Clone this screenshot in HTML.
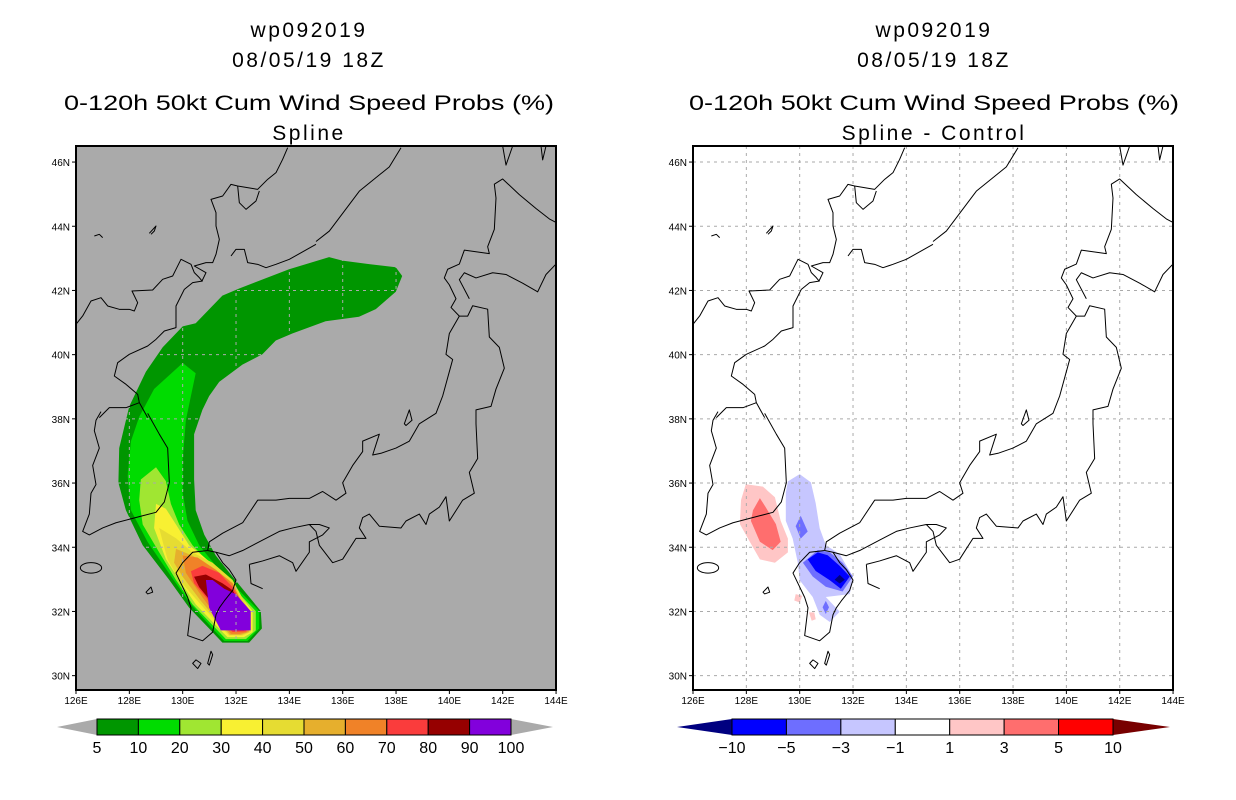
<!DOCTYPE html>
<html><head><meta charset="utf-8">
<style>
html,body{margin:0;padding:0;background:#fff;}
svg{display:block;}
text{font-family:"Liberation Sans",sans-serif;}
</style></head>
<body>
<svg id="chart" width="1236" height="800" viewBox="0 0 1236 800" xmlns="http://www.w3.org/2000/svg">
<defs>
<g id="coast" fill="none" stroke="#000" stroke-width="1" stroke-linejoin="round">
<g transform="scale(0.33333,0.33333)">
<path vector-effect="non-scaling-stroke" d="M0,535 L20,510 L45,465 L75,455 L95,480 L130,490 L160,490 L175,495 L185,470 L168,435 L230,432 L260,400 L290,390 L300,370 L315,340 L345,355 L355,380 L370,395 L378,405 L390,380 L355,360 L390,350 L410,350 L420,325 L430,280 L420,240 L420,200 L405,160 L440,150 L465,115 L485,120 L545,130 L575,100 L600,80 L620,40 L635,5"/>
<path vector-effect="non-scaling-stroke" d="M485,120 L490,170 L510,190 L540,165 L550,135"/>
<path vector-effect="non-scaling-stroke" d="M465,330 L480,310 L505,310 L515,350 L545,355 L570,365 L600,355 L640,340 L720,295"/>
<path vector-effect="non-scaling-stroke" d="M380,405 L350,410 L325,430 L300,480 L300,545 L265,555 L240,580 L215,600 L160,625 L125,650 L115,690 L150,715 L185,745 L190,770 L215,815"/>
<path vector-effect="non-scaling-stroke" d="M70,815 L100,785 L150,785 L190,770"/>
<path vector-effect="non-scaling-stroke" d="M220,262 L240,240 L235,255 L225,265 M55,270 L70,265 L80,275"/>
</g>
<g transform="scale(0.33333,0.34722)">
<path vector-effect="non-scaling-stroke" d="M720,275 L760,245 L850,130 L940,60 L975,5"/>
<path vector-effect="non-scaling-stroke" d="M215,770 L250,830 L275,870 L280,970 L265,1025 L240,1055 L200,1065 L160,1075 L120,1085 L80,1100 L40,1120 L20,1110 L40,1060 L45,1000 L60,975 L50,920 L70,870 L55,820 L60,790 L75,765"/>
<path vector-effect="non-scaling-stroke" d="M395,1165 L400,1140 L440,1115 L500,1085 L545,1020 L600,1020 L640,1015 L700,1015 L740,995 L780,1020 L810,1000 L800,970 L830,920 L860,880 L860,850 L910,830 L890,890 L915,885 L960,870 L1000,850 L1030,800 L1080,770 L1100,720 L1120,650 L1130,615 L1110,600 L1120,540 L1150,490 L1175,490 L1190,460 L1235,470 L1240,550 L1270,580 L1285,640 L1260,700 L1245,750 L1200,760 L1200,800 L1205,900 L1180,940 L1195,1000 L1160,1020 L1120,1080 L1110,1010 L1090,1040 L1060,1060 L1050,1090 L1030,1060 L990,1080 L975,1100 L910,1095 L880,1060 L860,1070 L850,1100 L870,1130 L840,1130 L800,1190 L770,1200 L730,1150 L720,1110 L700,1090 L650,1100 L610,1110 L560,1135 L500,1165 L460,1180 L420,1170 L395,1165"/>
<path vector-effect="non-scaling-stroke" d="M1150,490 L1125,465 L1140,440 L1120,400 L1105,380 L1115,355 L1150,340 L1165,300 L1240,310 L1235,290 L1255,240 L1260,150 L1255,110 L1280,95 L1330,140 L1380,180 L1420,210 L1440,220"/>
<path vector-effect="non-scaling-stroke" d="M1180,440 L1150,385 L1165,365 L1200,380 L1250,365 L1290,370 L1340,395 L1385,420 L1410,370 L1440,340"/>
<path vector-effect="non-scaling-stroke" d="M520,1205 L560,1195 L610,1180 L650,1200 L660,1225 L700,1170 L700,1140 L740,1120 L760,1100 L730,1090 L700,1090 M520,1205 L525,1260 L560,1275"/>
<path vector-effect="non-scaling-stroke" d="M395,1165 L350,1170 L320,1200 L300,1230 L320,1270 L335,1300 L345,1330 L335,1410 L380,1425 L410,1400 L420,1350 L430,1330 L445,1310 L470,1280 L480,1250 L460,1220 L440,1200 L420,1170"/>
<ellipse vector-effect="non-scaling-stroke" cx="45" cy="1215" rx="32" ry="15"/>
<path vector-effect="non-scaling-stroke" d="M1280,0 L1290,55 L1310,0 M1395,0 L1400,40 L1410,0"/>
<path vector-effect="non-scaling-stroke" d="M350,1490 L365,1505 L375,1490 L360,1480 Z M395,1490 L405,1455 L410,1465 L400,1495 Z"/>
<path vector-effect="non-scaling-stroke" d="M985,800 L1000,760 L1008,790 L990,805 Z M210,1285 L225,1270 L230,1285 L215,1290 Z"/>
</g>
</g>
</defs>
<g id="layer"></g>
</svg>
<script>
// ---------- DATA (lon, lat pairs) ----------
const latTicks = [30,32,34,36,38,40,42,44,46];
const lonTicks = [126,128,130,132,134,136,138,140,142,144];
const leftLevels = ['5','10','20','30','40','50','60','70','80','90','100'];
const rightLevels = ['-10','-5','-3','-1','1','3','5','10'];

const prob5 = [[135.49,43.04],[135.99,42.93],[136.99,42.82],[137.99,42.72],[138.23,42.45],[137.99,41.96],[137.24,41.42],[136.61,41.18],[135.36,41.04],[134.11,40.66],[133.49,40.44],[132.99,40.01],[132.24,39.69],[131.37,39.15],[130.99,38.71],[130.74,38.28],[130.43,37.52],[130.43,36.11],[130.49,35.15],[130.81,34.39],[131.24,33.74],[131.87,33.08],[132.93,32.01],[132.97,31.47],[132.49,31.03],[131.49,31.03],[130.99,31.47],[130.24,32.12],[129.5,32.98],[128.5,34.06],[127.87,35.15],[127.59,36.01],[127.62,37.09],[128.0,38.39],[128.62,39.47],[129.25,40.23],[130.0,40.88],[130.49,40.98],[131.49,41.84],[132.12,42.06],[133.99,42.66]];
const prob10 = [[130.0,39.74],[130.49,39.42],[130.31,38.71],[130.12,37.96],[130.0,36.76],[130.0,35.69],[130.18,34.82],[130.62,34.06],[131.24,33.42],[131.99,32.76],[132.87,32.01],[132.87,31.47],[132.43,31.08],[131.56,31.08],[131.06,31.52],[130.31,32.22],[129.62,33.03],[128.68,34.17],[128.06,35.15],[127.94,36.22],[128.06,37.3],[128.37,38.06],[128.93,38.93]];
const prob20 = [[129.0,36.49],[129.37,36.06],[129.56,35.35],[129.87,34.71],[130.37,34.06],[130.99,33.52],[131.74,32.88],[132.74,32.01],[132.74,31.41],[132.37,31.14],[131.62,31.14],[131.12,31.57],[130.37,32.22],[129.75,32.98],[129.12,33.84],[128.5,34.71],[128.37,35.47],[128.43,36.11]];
const prob30 = [[129.0,35.35],[129.37,35.2],[129.75,34.71],[130.24,34.06],[130.74,33.74],[131.49,33.2],[132.62,32.01],[132.62,31.36],[132.3,31.2],[131.68,31.2],[131.24,31.57],[130.49,32.22],[129.87,32.98],[129.37,33.63],[128.93,34.6]];
const prob40 = [[129.12,34.6],[129.75,34.28],[130.37,33.84],[131.12,33.52],[131.87,32.98],[132.55,31.95],[132.55,31.36],[132.24,31.25],[131.74,31.25],[131.31,31.63],[130.62,32.27],[129.87,32.98],[129.43,33.63],[129.25,34.17]];
const prob50 = [[129.75,33.95],[130.37,33.74],[130.99,33.42],[131.74,32.98],[132.49,31.95],[132.49,31.36],[132.18,31.27],[131.77,31.27],[131.37,31.66],[130.68,32.33],[130.0,33.08],[129.68,33.52]];
const prob60 = [[130.0,33.74],[130.56,33.68],[131.24,33.3],[131.87,32.88],[132.37,32.01],[132.43,31.36],[132.12,31.3],[131.81,31.3],[131.43,31.68],[130.74,32.44],[130.12,33.2]];
const prob70 = [[130.31,33.25],[130.74,33.42],[131.37,33.2],[131.87,32.76],[132.3,32.12],[132.37,31.38],[131.87,31.36],[131.49,31.68],[130.87,32.44],[130.43,32.88]];
const prob80 = [[130.43,33.08],[130.87,33.15],[131.49,32.88],[131.87,32.66],[132.24,32.12],[132.3,31.41],[131.93,31.41],[131.56,31.63],[130.93,32.44],[130.62,32.76]];
const prob90 = [[130.87,32.98],[131.12,32.98],[131.56,32.71],[131.99,32.54],[132.55,32.01],[132.55,31.41],[131.43,31.41],[130.99,32.12]];

const diffPos1 = [[127.98,35.96],[128.62,35.89],[129.07,35.56],[129.29,34.82],[129.56,34.27],[129.56,33.84],[129.07,33.52],[128.51,33.62],[128.13,34.17],[127.76,34.72],[127.8,35.47]];
const diffPos3 = [[128.51,35.53],[128.73,35.24],[129.11,34.72],[129.29,34.17],[128.99,33.91],[128.51,34.17],[128.17,34.82],[128.25,35.15]];
const diffPosSmallA = [[129.85,32.54],[130.1,32.49],[130.0,32.28],[129.8,32.34]];
const diffPosSmallB = [[130.35,31.97],[130.55,31.97],[130.6,31.76],[130.45,31.71]];
const diffNeg1 = [[129.56,36.05],[130.0,36.28],[130.42,36.02],[130.6,35.37],[130.75,34.59],[130.98,34.07],[131.5,33.78],[131.99,33.09],[131.88,32.54],[130.98,32.45],[131.5,31.99],[131.13,31.67],[130.75,31.9],[130.49,32.45],[130.0,32.97],[129.93,33.52],[129.74,34.27],[129.48,34.82],[129.48,35.7]];
const diffNeg3 = [[130.12,33.52],[130.68,33.91],[131.13,33.84],[131.61,33.52],[131.99,33.09],[131.61,32.62],[130.98,32.77],[130.49,33.09]];
const diffNeg3b = [[129.85,34.66],[130.04,34.98],[130.3,34.49],[130.04,34.27]];
const diffNeg3c = [[130.98,32.33],[131.1,32.13],[130.98,31.92],[130.86,32.13]];
const diffNeg5 = [[130.3,33.62],[130.68,33.84],[131.05,33.75],[131.5,33.42],[131.88,33.09],[131.54,32.71],[131.13,32.97],[130.6,33.26]];
const diffNeg10 = [[131.5,33.14],[131.69,32.99],[131.5,32.87],[131.31,32.99]];

// ---------- STYLE / GEOMETRY ----------
const NS='http://www.w3.org/2000/svg';
const layer=document.getElementById('layer');
const TOP=146, BOT=690, LAT0=46.5, PXLAT=32.1, PXLON=26.67;
function mk(tag,attrs,parent){const e=document.createElementNS(NS,tag);for(const k in attrs)e.setAttribute(k,attrs[k]);(parent||layer).appendChild(e);return e;}
function makePanel(ox){return{ox:ox,x:lon=>ox+(lon-126)*PXLON,y:lat=>TOP+(LAT0-lat)*PXLAT};}
function poly(p,pts,fill,name,g){const d=pts.map(q=>p.x(q[0]).toFixed(1)+','+p.y(q[1]).toFixed(1)).join(' ');const e=mk('polygon',{points:d,fill:fill},g);


return e;}

function drawPanel(ox,bg,title2,shades,gridColor){
  const p=makePanel(ox);
  const g=mk('g',{});
  
  
  const bgR=mk('rect',{x:ox,y:TOP,width:480,height:BOT-TOP,fill:bg},g);
  
  
  const clipId='clip'+ox;
  const cp=mk('clipPath',{id:clipId},g);mk('rect',{x:ox,y:TOP,width:480,height:BOT-TOP},cp);
  const inner=mk('g',{'clip-path':'url(#'+clipId+')'},g);
  shades.forEach(s=>poly(p,s[0],s[1],s[2],inner));
  const grid=mk('g',{stroke:gridColor,'stroke-width':1,'stroke-dasharray':'3,4'},inner);
  
  
  lonTicks.slice(1,-1).forEach(l=>mk('line',{x1:p.x(l),x2:p.x(l),y1:TOP,y2:BOT},grid));
  latTicks.forEach(l=>mk('line',{x1:ox,x2:ox+480,y1:p.y(l),y2:p.y(l)},grid));
  mk('use',{href:'#coast',transform:'translate('+ox+','+TOP+')'},inner);
  const fr=mk('rect',{x:ox,y:TOP,width:480,height:BOT-TOP,fill:'none',stroke:'#000','stroke-width':2},g);
  
  
  latTicks.forEach(l=>{
    mk('line',{x1:ox-4,x2:ox,y1:p.y(l),y2:p.y(l),stroke:'#000','stroke-width':1},g);
    const t=mk('text',{x:ox-6,y:p.y(l)+4,'font-size':10,'text-anchor':'end'},g);t.textContent=l+'N';
    
    
  });
  lonTicks.forEach(l=>{
    mk('line',{x1:p.x(l),x2:p.x(l),y1:BOT,y2:BOT+4,stroke:'#000','stroke-width':1},g);
    const t=mk('text',{x:p.x(l),y:BOT+14,'font-size':10,'text-anchor':'middle'},g);t.textContent=l+'E';
    
    
  });
  const cx=ox+240;
  const titles=[['wp092019',37,null],['08/05/19 18Z',67,null],['0-120h 50kt Cum Wind Speed Probs (%)',110,490],[title2,140,null]];
  titles.forEach((tt,i)=>{
    const a={x:cx-7+(ox>600?8:0),y:tt[1],'font-size':21,'text-anchor':'middle','letter-spacing':2.5};
    if(tt[2]){a.textLength=tt[2];a.lengthAdjust='spacingAndGlyphs';delete a['letter-spacing'];}
    const t=mk('text',a,g);t.textContent=tt[0];
    
    
  });
}

function colorbar(x0,x1,leftTip,rightTip,cols,tipL,tipR,labels,name){
  const g=mk('g',{});
  
  
  const y0=719,y1=735,ym=727,n=cols.length,w=(x1-x0)/n;
  const tl=mk('polygon',{points:`${leftTip},${ym} ${x0},${y0} ${x0},${y1}`,fill:tipL},g);
  
  
  const tr=mk('polygon',{points:`${rightTip},${ym} ${x1},${y0} ${x1},${y1}`,fill:tipR},g);
  
  
  cols.forEach((c,i)=>{const r=mk('rect',{x:x0+i*w,y:y0,width:w,height:y1-y0,fill:c,stroke:'#000','stroke-width':1},g);
    
    });
  labels.forEach((l,i)=>{const t=mk('text',{x:x0+i*w,y:753,'font-size':16,'text-anchor':'middle'},g);t.textContent=l.replace('-','\u2212');
    
    });
}

const LC=['#009600','#00dc00','#a0e632','#f8f032','#e6dc32','#e6af2d','#f08228','#fa3c3c','#960000','#8200dc'];
drawPanel(76,'#aaaaaa','Spline',[
 [prob5,LC[0],'prob-5-10'],[prob10,LC[1],'prob-10-20'],[prob20,LC[2],'prob-20-30'],[prob30,LC[3],'prob-30-40'],
 [prob40,LC[4],'prob-40-50'],[prob50,LC[5],'prob-50-60'],[prob60,LC[6],'prob-60-70'],[prob70,LC[7],'prob-70-80'],
 [prob80,LC[8],'prob-80-90'],[prob90,LC[9],'prob-90-100']],'#aaaaaa');
drawPanel(693,'#ffffff','Spline - Control',[
 [diffPos1,'#ffc6c6','diff-pos-1-3'],[diffPos3,'#ff6e6e','diff-pos-3-5'],[diffPosSmallA,'#ffc6c6','diff-pos-spot'],[diffPosSmallB,'#ffc6c6','diff-pos-spot'],
 [diffNeg1,'#c6c6ff','diff-neg-1-3'],[diffNeg3,'#6e6eff','diff-neg-3-5'],[diffNeg3b,'#6e6eff','diff-neg-3-5'],[diffNeg3c,'#6e6eff','diff-neg-3-5'],
 [diffNeg5,'#0000ff','diff-neg-5-10'],[diffNeg10,'#000080','diff-neg-10']],'#aaaaaa');
colorbar(97,511,57,553,LC,'#aaaaaa','#aaaaaa',leftLevels,'probability-colorbar');
colorbar(732,1113,677,1170,['#0000ff','#6e6eff','#c6c6ff','#ffffff','#ffc6c6','#ff6e6e','#ff0000'],'#000080','#780000',rightLevels,'difference-colorbar');
</script>
</body></html>
